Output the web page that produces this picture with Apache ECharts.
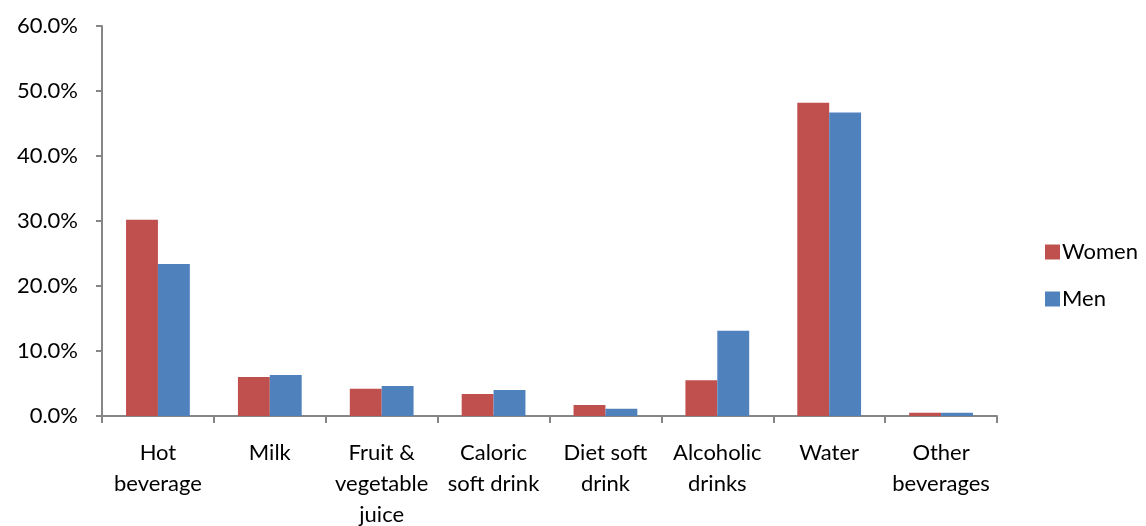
<!DOCTYPE html>
<html>
<head>
<meta charset="utf-8">
<script src="https://cdn.jsdelivr.net/npm/echarts@6/dist/echarts.min.js"></script>
<style>
  html, body { margin: 0; padding: 0; background: #ffffff; }
  #chart { width: 1146px; height: 526px; }
</style>
</head>
<body>
<div id="chart"></div>
<script>
// Share of daily beverage intake by type, women vs men (%)
const categories = [
  'Hot\nbeverage', 'Milk', 'Fruit &\nvegetable\njuice', 'Caloric\nsoft drink',
  'Diet soft\ndrink', 'Alcoholic\ndrinks', 'Water', 'Other\nbeverages'
];
const women = [30.2, 6.0, 4.2, 3.4, 1.7, 5.5, 48.2, 0.5];
const men   = [23.4, 6.3, 4.6, 4.0, 1.1, 13.1, 46.7, 0.5];

const FONT = 'Lato';
const AXIS_COLOR = '#868686';

const chart = echarts.init(document.getElementById('chart'), null, { renderer: 'canvas' });
chart.setOption({
  animation: false,
  backgroundColor: '#ffffff',
  textStyle: { fontFamily: FONT },
  grid: { left: 102, right: 149, top: 26, bottom: 110, containLabel: false, outerBoundsMode: 'none' },
  legend: {
    orient: 'vertical',
    left: 1040,
    top: 236,
    itemWidth: 15,
    itemHeight: 15,
    itemGap: 25,
    icon: 'rect',
    textStyle: { fontFamily: FONT, fontSize: 22, color: '#000000', padding: [0, 0, 0, -3] },
    data: ['Women', 'Men']
  },
  xAxis: {
    type: 'category',
    data: categories,
    axisLine: { lineStyle: { color: AXIS_COLOR, width: 2 } },
    axisTick: { show: true, length: 7, lineStyle: { color: AXIS_COLOR, width: 2 } },
    axisLabel: {
      interval: 0,
      margin: 21,
      fontFamily: FONT,
      fontSize: 22,
      lineHeight: 31,
      color: '#000000'
    }
  },
  yAxis: {
    type: 'value',
    min: 0,
    max: 60,
    interval: 10,
    splitLine: { show: false },
    axisLine: { show: true, lineStyle: { color: AXIS_COLOR, width: 2 } },
    axisTick: { show: true, length: 6, lineStyle: { color: AXIS_COLOR, width: 2 } },
    axisLabel: {
      margin: 24,
      fontFamily: FONT,
      fontSize: 22,
      color: '#000000',
      formatter: v => v.toFixed(1) + '%'
    }
  },
  series: [
    {
      name: 'Women',
      type: 'bar',
      data: women,
      barGap: '0%',
      barCategoryGap: '43%',
      itemStyle: { color: '#C0504D' }
    },
    {
      name: 'Men',
      type: 'bar',
      data: men,
      barGap: '0%',
      barCategoryGap: '43%',
      itemStyle: { color: '#4F81BD' }
    }
  ]
});
</script>
</body>
</html>
